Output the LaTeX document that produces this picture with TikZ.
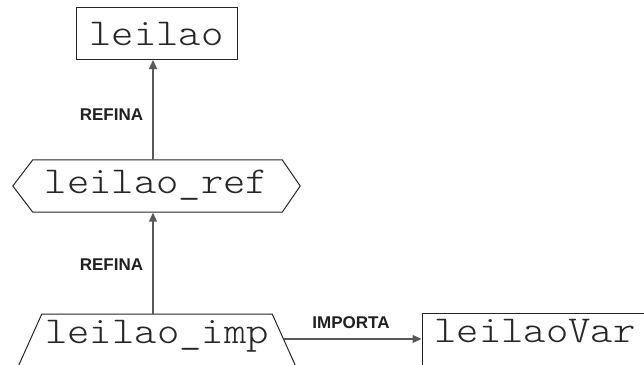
\documentclass[tikz,border=0pt]{standalone}
\usepackage{fontspec}
\setmainfont{Liberation Sans}
\newfontfamily\monofnt[FakeStretch=1.12]{Latin Modern Mono Light}
\usetikzlibrary{arrows.meta,calc}
\tikzset{
  lbl/.style={font=\fontsize{17}{17}\selectfont\bfseries, text=black!88, inner sep=0},
  mono/.style={font=\fontsize{38}{40}\selectfont\monofnt, text=black!85, text height=24, inner xsep=0},
  border/.style={draw=black!85, line width=1pt},
  arr/.style={draw=black!65, line width=1.2pt, -{Triangle[length=9pt,width=8pt]}, shorten >=0.5pt}
}
\begin{document}
\begin{tikzpicture}[x=1pt,y=-1pt]
\useasboundingbox (0,0) rectangle (644,364);
\clip (0,0) rectangle (644,364);
% leilao
\node[mono, border, text depth=0, minimum width=161, minimum height=52, inner ysep=0] (leilao) at (156.5,33) {leilao};
% leilao_ref (hexagon)
\node[mono, text depth=10, minimum width=287, inner ysep=9] (ref) at (156.5,186) {leilao\_ref};
\draw[border] (ref.west) -- ($(ref.north west)+(20,0)$) -- ($(ref.north east)+(-18,0)$) -- (ref.east)
  -- ($(ref.south east)+(-18,0)$) -- ($(ref.south west)+(20,0)$) -- cycle;
% leilao_imp (trapezoid)
\node[mono, anchor=north, text depth=40, minimum width=230, inner ysep=5] (imp) at (157,314) {leilao\_imp};
\draw[border] ($(imp.north west)+(-36,80)$) -- (imp.north west) -- (imp.north east) -- ($(imp.north east)+(36,80)$);
% leilaoVar
\node[mono, border, anchor=base west, text depth=40, inner xsep=12, inner ysep=5] (var) at (422,342) {leilaoVar};
% connectors
\draw[arr] ([xshift=-3.5]ref.north) -- ([xshift=-3.5]leilao.south);
\draw[arr] ([xshift=-4]imp.north) -- ([xshift=-3.5]ref.south);
\coordinate (impR) at ($(imp.north east)+(11.5,25)$);
\draw[arr] (impR) -- (impR -| var.west);
% labels
\node[lbl] (r1) at (111.5,115) {REFINA};
\node[lbl] (r2) at (111.5,265) {REFINA};
\node[lbl] (im) at (351,323) {IMPORTA};
\end{tikzpicture}
\end{document}
